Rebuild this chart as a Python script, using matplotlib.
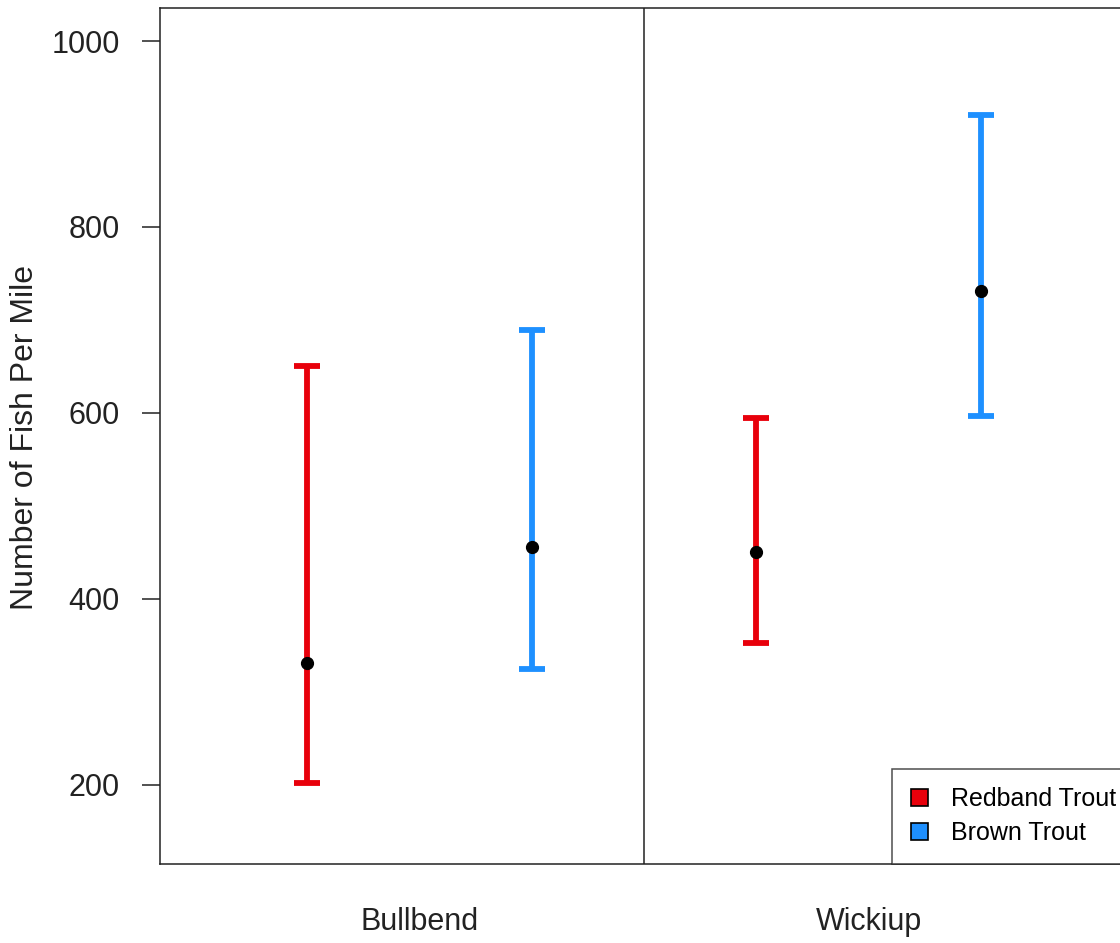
import matplotlib
matplotlib.use("Agg")
import matplotlib.pyplot as plt
from matplotlib.patches import Patch

plt.rcParams["font.family"] = ["Liberation Sans", "DejaVu Sans"]

# Estimated fish per mile with confidence limits
sites = ["Bullbend", "Wickiup"]
species = ["Redband Trout", "Brown Trout"]
colors = ["#e8000b", "#1e90ff"]
means = [[331, 450], [456, 731]]   # [species][site]
lower = [[202, 353], [325, 597]]
upper = [[650, 595], [689, 920]]

fig = plt.figure(figsize=(11.2, 9.43), dpi=100)
ax = fig.add_axes([160 / 1120, 1 - 864 / 943, 968 / 1120, 856 / 943])

for si in range(len(sites)):
    for sp in range(len(species)):
        x = 1 + si * 2 + sp
        m = means[sp][si]
        ax.errorbar(x, m, yerr=[[m - lower[sp][si]], [upper[sp][si] - m]],
                    fmt="none", ecolor=colors[sp], elinewidth=4.2,
                    capsize=9.5, capthick=4.2, zorder=2)
        ax.plot(x, m, "o", color="black", markersize=8.5, zorder=3)

ax.axvline(2.5, color="#222222", linewidth=1.1)

ax.set_xlim(0.347, 4.653)
ax.set_ylim(115, 1035.5)
ax.set_yticks([200, 400, 600, 800, 1000])
ax.set_xticks([])
ax.tick_params(axis="y", labelsize=22, length=13, width=1.1, pad=16, colors="#222222")
ax.set_ylabel("Number of Fish Per Mile", fontsize=23, color="#222222")
ax.yaxis.set_label_coords(-0.124, 0.498)
for s in ax.spines.values():
    s.set_linewidth(1.1)
    s.set_color("#222222")

for si, name in enumerate(sites):
    ax.text(1.5 + si * 2, -0.068, name, transform=ax.get_xaxis_transform(),
            ha="center", va="center", fontsize=22, color="#222222")

handles = [Patch(facecolor=c, edgecolor="black", linewidth=1.2) for c in colors]
leg = ax.legend(handles, species, loc="lower right", bbox_to_anchor=(1.007, 0),
                borderaxespad=0, fontsize=18, frameon=True, fancybox=False,
                handlelength=0.7, handleheight=0.7, handletextpad=0.9,
                labelspacing=0.4, borderpad=0.75)
leg.get_frame().set_edgecolor("#222222")
leg.get_frame().set_linewidth(1.1)

fig.savefig("out.png", dpi=100)
